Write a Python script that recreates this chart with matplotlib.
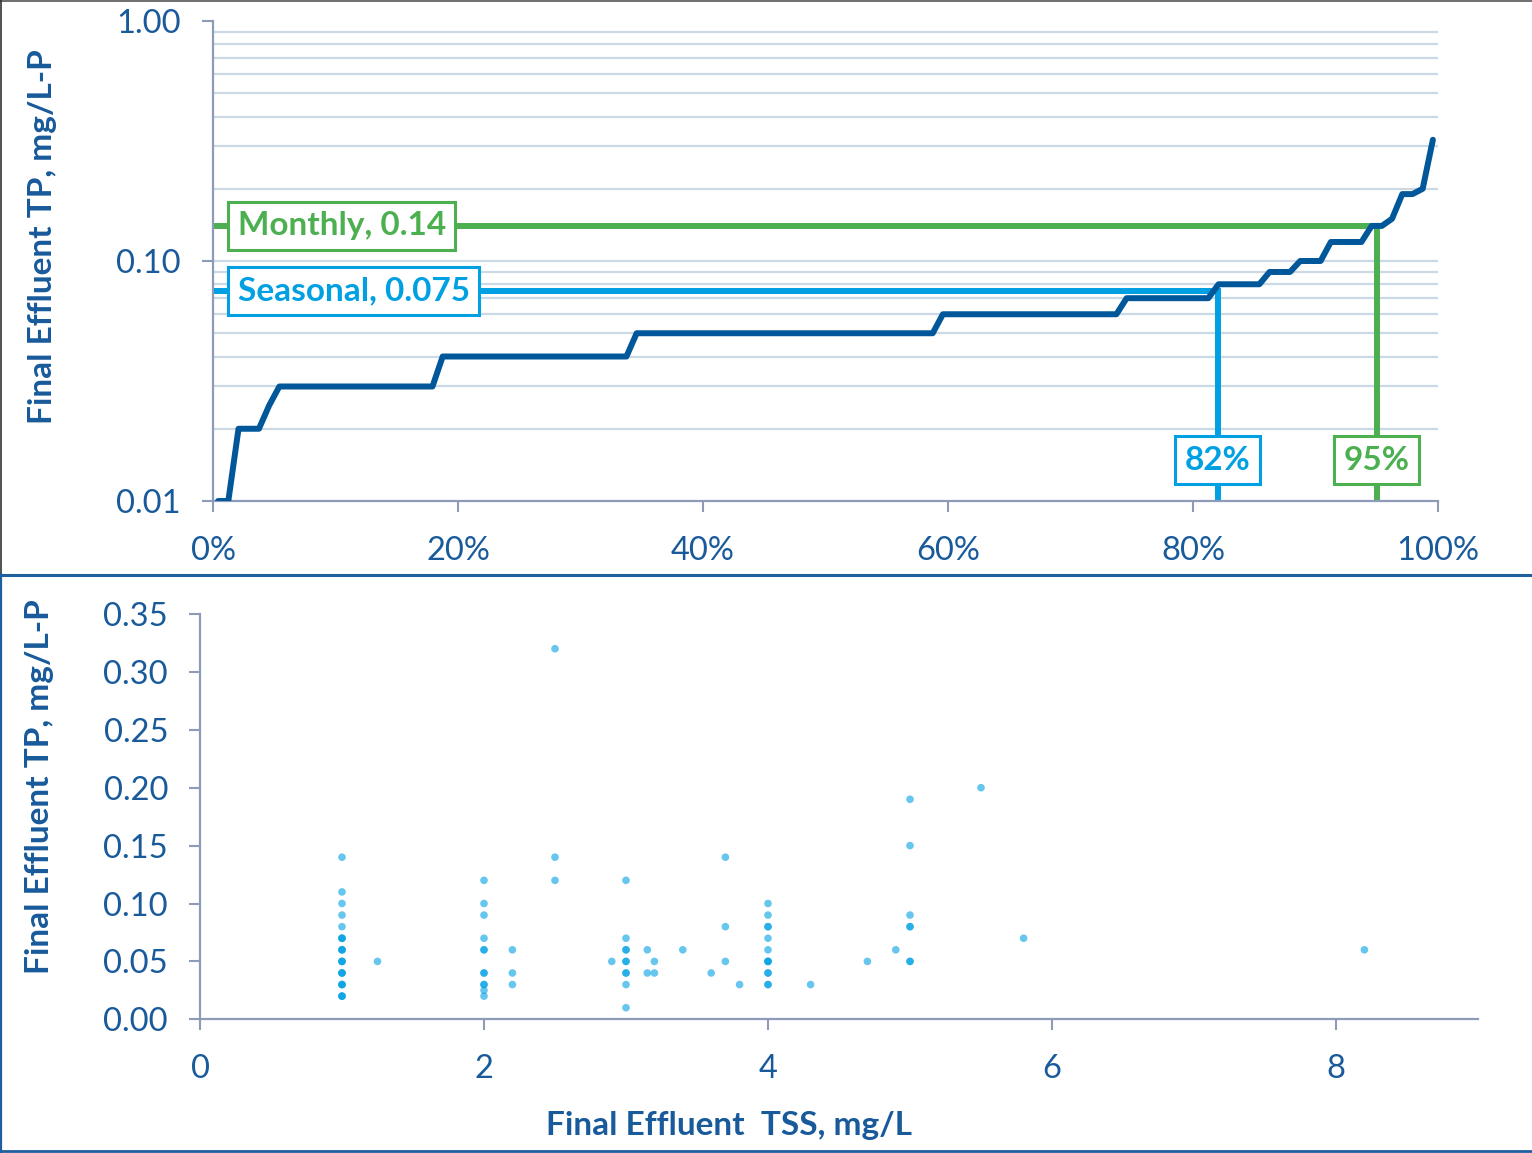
import numpy as np
import matplotlib.pyplot as plt
from matplotlib.lines import Line2D

plt.rcParams['font.family'] = ['Lato', 'DejaVu Sans']

# sorted final effluent TP: distinct levels and how many samples sit at each
tp_levels = [0.01, 0.02, 0.025, 0.03, 0.04, 0.05, 0.06, 0.07, 0.08, 0.09,
             0.10, 0.12, 0.14, 0.15, 0.19, 0.20, 0.32]
tp_counts = [2, 3, 1, 16, 19, 30, 18, 9, 5, 3, 3, 4, 2, 1, 2, 1, 1]

# permit limits and the percentile where the data cross them
monthly_limit = 0.14
monthly_pct = 95
seasonal_limit = 0.075
seasonal_pct = 82

# paired TSS / TP samples (repeats are overlapping days)
tss = [1, 1, 1, 1, 1, 1, 1, 1, 1, 1, 1, 1, 1, 1, 1, 1, 1, 1, 1, 1, 1, 1, 1,
       1.25,
       2, 2, 2, 2, 2, 2, 2, 2, 2, 2, 2, 2,
       2.2, 2.2, 2.2,
       2.5, 2.5, 2.5,
       2.9,
       3, 3, 3, 3, 3, 3, 3, 3, 3, 3,
       3.15, 3.15, 3.2, 3.2, 3.4, 3.6,
       3.7, 3.7, 3.7, 3.8,
       4, 4, 4, 4, 4, 4, 4, 4, 4, 4, 4, 4, 4,
       4.3, 4.7, 4.9,
       5, 5, 5, 5, 5, 5, 5,
       5.5, 5.8, 8.2]
tp = [0.14, 0.11, 0.10, 0.09, 0.08, 0.07, 0.07, 0.07, 0.06, 0.06, 0.06,
      0.05, 0.05, 0.05, 0.04, 0.04, 0.04, 0.03, 0.03, 0.03, 0.02, 0.02, 0.02,
      0.05,
      0.12, 0.10, 0.09, 0.07, 0.06, 0.06, 0.04, 0.04, 0.03, 0.03, 0.025, 0.02,
      0.06, 0.04, 0.03,
      0.32, 0.14, 0.12,
      0.05,
      0.12, 0.07, 0.06, 0.06, 0.05, 0.05, 0.04, 0.04, 0.03, 0.01,
      0.06, 0.04, 0.05, 0.04, 0.06, 0.04,
      0.14, 0.08, 0.05, 0.03,
      0.10, 0.09, 0.08, 0.08, 0.07, 0.06, 0.05, 0.05, 0.05, 0.04, 0.04, 0.03, 0.03,
      0.03, 0.05, 0.06,
      0.19, 0.15, 0.09, 0.08, 0.08, 0.05, 0.05,
      0.20, 0.07, 0.06]

navy = '#00579a'
text_blue = '#185a9a'
green = '#4caf50'
sky = '#00a0e3'
axis_grey = '#8d9bb8'
grid_col = '#cbd9e6'

W, H = 1532, 1153
fig = plt.figure(figsize=(W / 100, H / 100), dpi=100)

# ---- top: cumulative distribution on log scale ----
ax1 = fig.add_axes([213 / W, 1 - 501 / H, 1225 / W, 480 / H])
vals = np.repeat(tp_levels, tp_counts)
n = len(vals)
pct = (np.arange(n) + 0.5) / n * 100

ax1.set_yscale('log')
ax1.set_xlim(0, 100)
ax1.set_ylim(0.01, 1.0)

grid_levels = [m * 10.0 ** e for e in (-2, -1) for m in range(2, 10)] + [0.1]
ax1.hlines(grid_levels, 0, 100, color=grid_col, lw=1.6, zorder=0)

ax1.plot([0, monthly_pct, monthly_pct], [monthly_limit, monthly_limit, 0.01],
         color=green, lw=4.3, solid_joinstyle='miter', zorder=2)
ax1.plot([0, seasonal_pct, seasonal_pct], [seasonal_limit, seasonal_limit, 0.01],
         color=sky, lw=4.3, solid_joinstyle='miter', zorder=2)
ax1.plot(pct, vals, color=navy, lw=4.3, solid_joinstyle='round',
         solid_capstyle='round', zorder=3)

box_kw = dict(fontsize=24, fontweight='bold', zorder=5)


def boxed(x, y, s, col, ha):
    ax1.text(x, y, s, ha=ha, va='center', color=col,
             bbox=dict(boxstyle='square,pad=0.28', fc='white', ec=col, lw=2.2),
             **box_kw)


boxed(2.0, monthly_limit, f'Monthly, {monthly_limit:g}', green, 'left')
boxed(2.0, seasonal_limit, f'Seasonal, {seasonal_limit:g}', sky, 'left')
boxed(seasonal_pct, 0.0148, f'{seasonal_pct}%', sky, 'center')
boxed(monthly_pct, 0.0148, f'{monthly_pct}%', green, 'center')

ax1.set_yticks([0.01, 0.1, 1.0])
ax1.set_yticklabels(['0.01', '0.10', '1.00'])
ax1.yaxis.set_minor_locator(plt.NullLocator())
ax1.set_xticks(range(0, 101, 20))
ax1.set_xticklabels([f'{v}%' for v in range(0, 101, 20)])

# ---- bottom: TP against TSS ----
ax2 = fig.add_axes([200 / W, 1 - 1019.3 / H, 1278 / W, 405.3 / H])
ax2.scatter(tss, tp, s=30, color=sky, alpha=0.6, edgecolors='none', zorder=3)
ax2.set_xlim(0, 9)
ax2.set_ylim(0, 0.35)
ax2.set_xticks([0, 2, 4, 6, 8])
ax2.set_yticks(np.arange(0, 0.351, 0.05))
ax2.set_yticklabels([f'{v:.2f}' for v in np.arange(0, 0.351, 0.05)])

for ax in (ax1, ax2):
    for side in ('top', 'right'):
        ax.spines[side].set_visible(False)
    for side in ('left', 'bottom'):
        ax.spines[side].set_color(axis_grey)
        ax.spines[side].set_linewidth(1.6)
    ax.tick_params(which='major', length=8, width=1.5, color=axis_grey,
                   labelcolor=text_blue, labelsize=23.5, pad=15)
    ax.tick_params(axis='x', pad=17)
    ax.set_facecolor('none')

lab_kw = dict(color=text_blue, fontsize=24, fontweight='bold')
fig.text(43 / W, 1 - 237 / H, 'Final Effluent TP, mg/L-P', rotation=90,
         ha='center', va='center', **lab_kw)
fig.text(40 / W, 1 - 787 / H, 'Final Effluent TP, mg/L-P', rotation=90,
         ha='center', va='center', **lab_kw)
fig.text(729 / W, 1 - 1125 / H, 'Final Effluent  TSS, mg/L',
         ha='center', va='center', **lab_kw)

# panel frames
fig.add_artist(Line2D([0, 1], [1 - 0.5 / H, 1 - 0.5 / H], color='#555555', lw=1.2))
fig.add_artist(Line2D([0.5 / W, 0.5 / W], [1 - 574 / H, 1], color='#333333', lw=1.2))
fig.add_artist(Line2D([0, 1], [1 - 574.5 / H, 1 - 574.5 / H], color='#1f5f9e', lw=2.2))
fig.add_artist(Line2D([0.8 / W, 0.8 / W], [0, 1 - 574 / H], color='#1f5f9e', lw=1.6))
fig.add_artist(Line2D([0, 1], [1.8 / H, 1.8 / H], color='#1f5f9e', lw=2.0))

fig.savefig('out.png', dpi=100, facecolor='white')
